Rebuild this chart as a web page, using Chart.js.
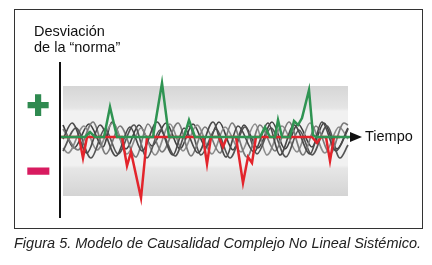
<!DOCTYPE html>
<html>
<head>
<meta charset="utf-8">
<title>Figura 5</title>
<script src="https://cdn.jsdelivr.net/npm/chart.js@4.4.1/dist/chart.umd.min.js"></script>
<style>
  html, body { margin: 0; padding: 0; background: #fff; }
  body { width: 432px; height: 265px; position: relative; overflow: hidden; font-family: "Liberation Sans", Arial, sans-serif; }
  #frame { position: absolute; left: 14px; top: 9px; width: 407px; height: 218px; border: 1.3px solid #333; }
  #chart { position: absolute; left: 0; top: 0; }
  .lbl { position: absolute; color: #111; font-size: 14.5px; line-height: 16px; white-space: nowrap; }
  .sign { position: absolute; font-family: "Liberation Sans", Arial, sans-serif; font-weight: bold; font-size: 38px; line-height: 38px; }
  #caption { position: absolute; left: 14px; top: 235px; font-style: italic; font-size: 14.5px; line-height: 16px; color: #222; white-space: nowrap; }
</style>
</head>
<body>
<div id="frame"></div>
<canvas id="chart" width="432" height="265"></canvas>
<div class="lbl" style="left:34px; top:23px;">Desviación<br>de la “norma”</div>
<div class="lbl" style="left:365px; top:128px;">Tiempo</div>
<span class="sign" style="left:27px; top:86px; color:#2f8a50; -webkit-text-stroke:2px #2f8a50;">+</span>
<span class="sign" style="left:27px; top:152px; color:#d81b60; -webkit-text-stroke:3px #d81b60;">−</span>
<div id="caption">Figura 5. Modelo de Causalidad Complejo No Lineal Sistémico.</div>

<script>
// values: x = time, y = deviation from the "norm" (0 = norm)

// positive deviations (green)
const greenPts = [[0,0],[25,0],[30,5],[35,0],[44,0],[50,30],[57,0],[93,0],[102,54],[109,0],
  [124,0],[129,17],[135,0],[200,0],[205,10],[210,0],[215,0],[218,17],[222,0],[230,0],
  [234,16],[238,12],[242,19],[249,47],[253,2],[256,0],[290,0]];

// negative deviations (red)
const redPts = [[0,0],[19,0],[23,-21],[27,0],[62,0],[67,-29],[71,-15],[81,-61],[87,0],
  [143,0],[147,-27],[151,0],[159,0],[163,-10],[167,0],[176,0],[183,-46],[188,-20],[192,-26],[196,0],
  [252,0],[257,-6],[261,0],[266,0],[270,-24],[274,0],[280,0]];

// background oscillations (grey)
const gray1 = [[3,-2],[12,14],[27,-16],[40,12],[56,-19],[70,10],[82,-14],[97,15],[113,-18],[124,9],[138,-16],
  [153,15],[166,-20],[178,11],[194,-15],[208,14],[220,-18],[234,12],[250,-17],[262,15],[276,-14],[288,8]];
const gray2 = [[3,8],[18,-13],[33,15],[46,-17],[60,11],[76,-20],[88,13],[102,-15],[118,14],[131,-19],[145,10],
  [160,-16],[172,14],[187,-20],[200,12],[215,-14],[229,15],[243,-18],[256,11],[270,-17],[284,14],[288,12]];
const gray3 = [[3,-14],[16,9],[31,-21],[45,8],[58,-17],[74,12],[87,-21],[100,7],[115,-19],[129,11],[141,-18],
  [156,8],[170,-21],[185,10],[197,-17],[211,9],[226,-20],[239,7],[252,-18],[267,11],[280,-21],[288,-8]];
const gray4 = [[3,-11],[8,-16],[24,11],[37,-13],[53,14],[67,-17],[81,9],[95,-18],[110,13],[123,-14],[137,12],
  [152,-17],[165,10],[181,-15],[195,13],[207,-18],[222,11],[237,-15],[250,14],[265,-16],[279,10],[288,-2]];
const gray5 = [[3,12],[14,-11],[29,13],[43,-10],[52,15],[66,-12],[79,12],[92,-9],[106,14],[120,-12],[133,13],
  [146,-10],[159,15],[173,-13],[184,12],[198,-11],[212,15],[225,-12],[238,13],[252,-10],[264,14],[277,-12],[288,9]];

// shaded range behind the curves
const bandX = [3, 288];
const bandY = [51, -59];

const toXY = pts => pts.map(p => ({ x: p[0], y: p[1] }));

function grayLine(pts, color) {
  return {
    data: toXY(pts),
    borderColor: color,
    borderWidth: 1.7,
    cubicInterpolationMode: 'monotone',
    pointRadius: 0,
    order: 3
  };
}

const decorPlugin = {
  id: 'decor',
  beforeDatasetsDraw(chart) {
    const { ctx, scales: { x, y } } = chart;
    const l = x.getPixelForValue(bandX[0]), r = x.getPixelForValue(bandX[1]);
    const t = y.getPixelForValue(bandY[0]), b = y.getPixelForValue(bandY[1]);
    const g = ctx.createLinearGradient(0, t, 0, b);
    g.addColorStop(0, '#d6d6d6');
    g.addColorStop(0.2, '#e5e5e5');
    g.addColorStop(0.23, '#f1f1f1');
    g.addColorStop(0.72, '#f1f1f1');
    g.addColorStop(0.75, '#e6e6e6');
    g.addColorStop(1, '#d4d4d4');
    ctx.save();
    ctx.fillStyle = g;
    ctx.fillRect(l, t, r - l, b - t);
    ctx.restore();
  },
  afterDatasetsDraw(chart) {
    const { ctx, chartArea, scales: { x, y } } = chart;
    ctx.save();
    // vertical axis
    ctx.strokeStyle = '#111';
    ctx.lineWidth = 2;
    ctx.beginPath();
    ctx.moveTo(x.getPixelForValue(0), chartArea.top);
    ctx.lineTo(x.getPixelForValue(0), chartArea.bottom);
    ctx.stroke();
    // arrow head of time axis
    const y0 = y.getPixelForValue(0);
    const ax = x.getPixelForValue(290);
    ctx.fillStyle = '#111';
    ctx.beginPath();
    ctx.moveTo(ax, y0 - 5);
    ctx.lineTo(chartArea.right, y0);
    ctx.lineTo(ax, y0 + 5);
    ctx.closePath();
    ctx.fill();
    ctx.restore();
  }
};

new Chart(document.getElementById('chart'), {
  type: 'line',
  data: {
    datasets: [
      { data: toXY(greenPts), borderColor: '#2f9452', borderWidth: 2.5, tension: 0, pointRadius: 0, order: 1 },
      { data: toXY(redPts), borderColor: '#e3242b', borderWidth: 2.5, tension: 0, pointRadius: 0, order: 2 },
      grayLine(gray1, '#4a4a4a'),
      grayLine(gray2, '#7a7a7a'),
      grayLine(gray3, '#555555'),
      grayLine(gray4, '#8c8c8c'),
      grayLine(gray5, '#404040')
    ]
  },
  options: {
    responsive: false,
    animation: false,
    events: [],
    layout: { padding: { left: 60, top: 62, right: 70, bottom: 47 } },
    plugins: { legend: { display: false }, tooltip: { enabled: false } },
    scales: {
      x: { type: 'linear', min: 0, max: 302, display: false },
      y: { min: -81, max: 75, display: false }
    }
  },
  plugins: [decorPlugin]
});
</script>
</body>
</html>
